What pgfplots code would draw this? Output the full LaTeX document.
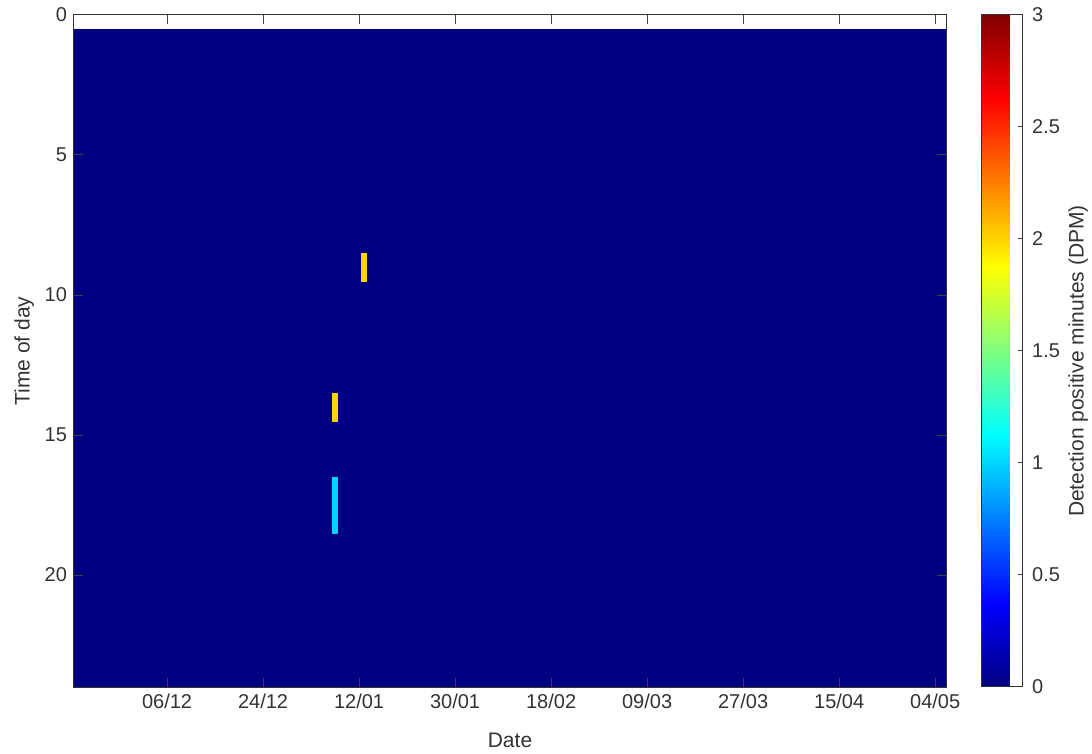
\documentclass[border=0pt]{standalone}
\usepackage{fontspec}
\setmainfont{Liberation Sans}
\usepackage{pgfplots}
\pgfplotsset{compat=1.18}

% days counted from 06/12
\pgfplotsset{
  every axis/.append style={
    /pgf/number format/assume math mode=true,
    tick style={black!75, line width=0.5pt},
    axis line style={black!80, line width=0.5pt},
    ticklabel style={font=\fontsize{10}{12}\selectfont, text=black!80},
    label style={font=\fontsize{10.5}{12}\selectfont, text=black!80},
  },
}

\begin{document}
\begin{tikzpicture}
\begin{axis}[
    name=main,
    scale only axis,
    width=436pt, height=336pt,
    xmin=-18.05, xmax=151.1,
    ymin=0, ymax=24, y dir=reverse,
    xtick={0,18.625,37.25,55.875,74.5,93.125,111.75,130.375,149},
    xticklabels={06/12,24/12,12/01,30/01,18/02,09/03,27/03,15/04,04/05},
    ytick={0,5,10,15,20},
    tick align=inside,
    major tick length=4.5pt,
    minor tick num=0,
    xlabel={Date},
    ylabel={Time of day},
    xlabel style={at={(axis description cs:0.5,-0.079)}, anchor=center},
    ylabel style={at={(axis description cs:-0.057,0.5)}, anchor=center},
    colormap/jet,
    point meta min=0, point meta max=3,
    colorbar,
    colorbar style={
        at={(parent axis.north east)}, anchor=north west, xshift=9pt,
        scale only axis,
        width=20.5pt, height=336pt,
        ytick={0,0.5,1,1.5,2,2.5,3},
        yticklabels={0,0.5,1,1.5,2,2.5,3},
        ytick pos=right,
        yticklabel pos=right,
        tick align=inside,
        major tick length=2pt,
        yticklabel style={xshift=1.5pt},
        ylabel={Detection positive minutes (DPM)},
        ylabel style={at={(axis description cs:2.37,0.485)}, anchor=center, rotate=0},
    },
    axis on top,
]
% background, all zero
\addplot[patch, patch type=rectangle, shader=flat, point meta=explicit] coordinates {
  (-18.05,0.5) [0] (151.1,0.5) [0] (151.1,24) [0] (-18.05,24) [0]
};
% detections
\addplot[patch, patch type=rectangle, shader=flat, point meta=explicit] coordinates {
  (37.7,8.5) [2] (38.7,8.5) [2] (38.7,9.5) [2] (37.7,9.5) [2]
  (32.1,13.5) [2] (33.1,13.5) [2] (33.1,14.5) [2] (32.1,14.5) [2]
  (32.1,16.5) [1] (33.1,16.5) [1] (33.1,18.5) [1] (32.1,18.5) [1]
};
\end{axis}
\pgfresetboundingbox
\path[use as bounding box] ([xshift=-37pt,yshift=-33.5pt]main.south west) rectangle ++(546pt,377pt);
\end{tikzpicture}
\end{document}
